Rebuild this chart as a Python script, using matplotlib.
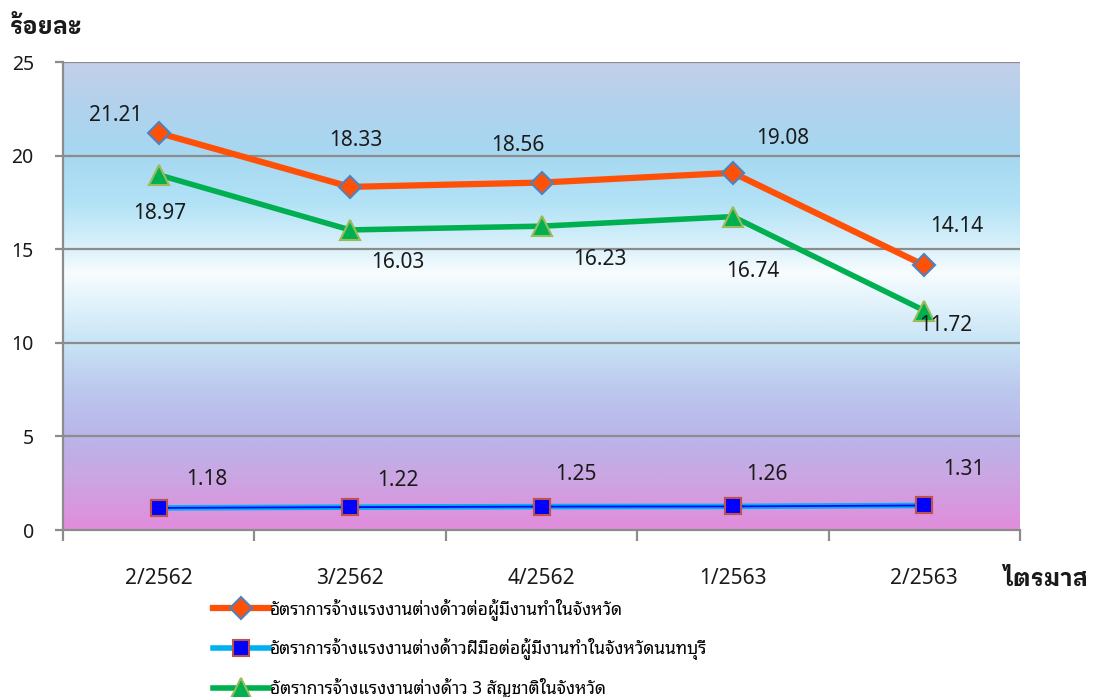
import matplotlib
matplotlib.use("Agg")
import matplotlib.pyplot as plt
from matplotlib import font_manager
from matplotlib.colors import LinearSegmentedColormap
import numpy as np

# ---------------- data ----------------
quarters = ["2/2562", "3/2562", "4/2562", "1/2563", "2/2563"]
rate_all = [21.21, 18.33, 18.56, 19.08, 14.14]
rate_skilled = [1.18, 1.22, 1.25, 1.26, 1.31]
rate_3nation = [18.97, 16.03, 16.23, 16.74, 11.72]
series_labels = [
    "อัตราการจ้างแรงงานต่างด้าวต่อผู้มีงานทำในจังหวัด",
    "อัตราการจ้างแรงงานต่างด้าวฝีมือต่อผู้มีงานทำในจังหวัดนนทบุรี",
    "อัตราการจ้างแรงงานต่างด้าว 3 สัญชาติในจังหวัด",
]
y_title = "ร้อยละ"
x_title = "ไตรมาส"

# ---------------- fonts ----------------
installed = {f.name for f in font_manager.fontManager.ttflist}
def pick(prefs):
    return next((n for n in prefs if n in installed), None)
legend_thai = pick(["Noto Sans Thai Looped", "IBM Plex Sans Thai Looped", "Noto Sans Thai UI", "Noto Sans Thai"])
title_thai = pick(["IBM Plex Sans Thai Looped", "Noto Sans Thai", "Noto Sans Thai Looped"])
num_font = "Noto Sans" if "Noto Sans" in installed else "DejaVu Sans"
legend_fam = [f for f in [legend_thai, num_font, "DejaVu Sans"] if f]
title_fam = [f for f in [title_thai, num_font, "DejaVu Sans"] if f]
num_fam = [num_font, "DejaVu Sans"]
plt.rcParams["font.family"] = legend_fam

fig = plt.figure(figsize=(10.95, 6.97), dpi=100)
ax = fig.add_axes([63 / 1095, 1 - 530 / 697, (1020 - 63) / 1095, (530 - 62) / 697])

x = np.arange(len(quarters))
ax.set_xlim(-0.5, len(quarters) - 0.5)
ax.set_ylim(0, 25)

# background gradient
stops = [
    (0.0, "#e28cdc"), (0.1, "#cda4e2"), (0.2, "#b9b5e9"), (0.3, "#bcc8ee"),
    (0.4, "#c8e4f6"), (0.5, "#e6f5fc"), (0.55, "#f8fdff"), (0.6, "#dcf2fb"),
    (0.7, "#b2e2f6"), (0.8, "#a6d8f1"), (0.9, "#b0d2ed"), (1.0, "#c4cfea"),
]
cmap = LinearSegmentedColormap.from_list("bg", stops)
grad = np.linspace(0, 1, 512).reshape(-1, 1)
ax.imshow(grad, cmap=cmap, origin="lower", aspect="auto",
          extent=(-0.5, len(quarters) - 0.5, 0, 25), zorder=0)

# grid
for yv in [5, 10, 15, 20, 25]:
    ax.axhline(yv, color="#8c8c8c", lw=1.6, zorder=1)

# series
l1, = ax.plot(x, rate_all, color="#ff5008", lw=4.5, marker="D", ms=11,
              mfc="#ff5008", mec="#4f81bd", mew=1.5, zorder=4, label=series_labels[0])
l2, = ax.plot(x, rate_skilled, color="#00b0f0", lw=4, marker="s", ms=12,
              mfc="#0000ff", mec="#c0504d", mew=1.5, zorder=4, label=series_labels[1])
ax.plot(x, rate_skilled, color="#0000ff", lw=1.3, zorder=4.5)
ax.plot(x, rate_skilled, ls="none", marker="s", ms=12,
        mfc="#0000ff", mec="#c0504d", mew=1.5, zorder=5)
l3, = ax.plot(x, rate_3nation, color="#00b050", lw=4, marker="^", ms=14,
              mfc="#00b050", mec="#9bbb59", mew=1.5, zorder=4, label=series_labels[2])

# data labels (offsets in pixels)
off_all = [(-43, 17), (6, 46), (-24, 37), (50, 34), (32, 39)]
off_3n = [(1, -39), (48, -33), (58, -33), (20, -55), (21, -15)]
off_sk = [(48, 28), (48, 27), (34, 32), (34, 32), (40, 36)]
for vals, offs in [(rate_all, off_all), (rate_3nation, off_3n), (rate_skilled, off_sk)]:
    for xi, v, (dx, dy) in zip(x, vals, offs):
        ax.annotate(f"{v:.2f}", (xi, v), xytext=(dx, dy), textcoords="offset pixels",
                    ha="center", va="center", fontsize=15, color="#1a1a1a", zorder=6,
                    family=num_fam)

# axes styling
for s in ["top", "right"]:
    ax.spines[s].set_visible(False)
for s in ["left", "bottom"]:
    ax.spines[s].set_color("#8c8c8c")
    ax.spines[s].set_linewidth(1.6)
    ax.spines[s].set_zorder(3)

ax.set_yticks([0, 5, 10, 15, 20, 25])
ax.tick_params(axis="y", length=6, width=1.6, color="#8c8c8c", pad=15,
               labelsize=14, labelcolor="#1a1a1a")
ax.set_xticks(x)
ax.set_xticklabels(quarters)
ax.tick_params(axis="x", which="major", length=0, pad=27, labelsize=15, labelcolor="#1a1a1a")
ax.set_xticks(np.arange(-0.5, len(quarters), 1.0), minor=True)
ax.tick_params(axis="x", which="minor", length=8, width=1.6, color="#8c8c8c", direction="out")
for lab in ax.get_xticklabels() + ax.get_yticklabels():
    lab.set_family(num_fam)

title_kw = dict(fontsize=17, fontweight="bold", color="#1a1a1a", va="center", ha="left",
                family=title_fam)
fig.text(10 / 1095, 1 - 27 / 697, y_title, **title_kw)
fig.text(1003 / 1095, 1 - 579 / 697, x_title, **title_kw)

fig.legend(handles=[l1, l2, l3], loc="upper left",
           bbox_to_anchor=(213 / 1095, 1 - 598 / 697), frameon=False,
           fontsize=12.5, handlelength=3.2, handletextpad=0.1, labelspacing=1.04,
           borderpad=0, borderaxespad=0)

fig.savefig("out.png", dpi=100)
